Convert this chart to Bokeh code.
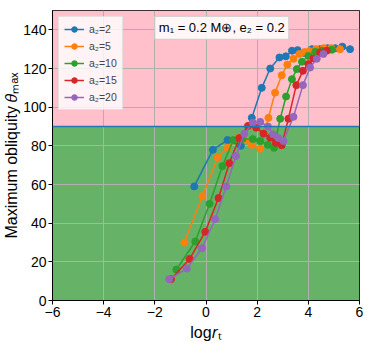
from bokeh.plotting import figure
from bokeh.models import BoxAnnotation, Span, Label, FixedTicker, Range1d
from bokeh.embed import file_html
from bokeh.resources import INLINE

# ---- data ----
labels = ["a₂=2", "a₂=5", "a₂=10", "a₂=15", "a₂=20"]
colors = ["#1f77b4", "#ff7f0e", "#2ca02c", "#d62728", "#9467bd"]

x_a2_2 = [-0.46, 0.27, 0.84, 1.36, 1.79, 2.18, 2.51, 2.87, 3.12, 3.36, 3.58, 3.85, 4.14, 4.45, 4.75, 5.05, 5.33, 5.63]
y_a2_2 = [59, 78, 83, 80, 94.5, 110, 120, 125.7, 126.3, 129.2, 129.5, 128, 130, 130, 130.5, 130.5, 131.3, 130]

x_a2_5 = [-0.85, -0.14, 0.46, 0.85, 1.25, 1.55, 1.79, 2.12, 2.44, 2.70, 2.96, 3.18, 3.42, 3.65, 3.85, 4.04, 4.3, 4.6, 4.9, 5.24]
y_a2_5 = [30, 54, 74, 79, 84, 83, 80.5, 78.5, 94.5, 107.5, 116.5, 122, 125, 127.5, 128.5, 129, 130, 130.5, 130.5, 130]

x_a2_10 = [-1.16, -0.42, 0.14, 0.64, 1.07, 1.42, 1.83, 2.12, 2.42, 2.66, 2.9, 3.13, 3.36, 3.55, 3.75, 4.0, 4.27, 4.53, 4.92]
y_a2_10 = [16, 30.5, 50, 69.5, 83, 83.5, 83.5, 82.5, 80.5, 79, 94, 105.5, 114.5, 119.7, 123.5, 126.5, 128.7, 129.2, 129.7]

x_a2_15 = [-1.37, -0.64, -0.03, 0.49, 0.91, 1.30, 1.64, 1.96, 2.25, 2.51, 2.73, 2.96, 3.22, 3.53, 3.79, 4.0, 4.2, 4.46, 4.72]
y_a2_15 = [11, 21.5, 35.5, 53, 71, 84, 90.3, 89.4, 86.3, 84.2, 81.6, 80.3, 94, 111.4, 118.8, 122.3, 125.2, 128.3, 129.2]

x_a2_20 = [-1.44, -0.75, -0.16, 0.36, 0.79, 1.17, 1.50, 1.83, 2.12, 2.42, 2.62, 2.83, 3.03, 3.42, 3.79, 4.07, 4.33, 4.59]
y_a2_20 = [11, 16.5, 27, 42, 59, 74.7, 86.3, 92, 92.4, 90, 86, 84, 82.5, 95, 111.4, 120.5, 125, 127.5]

series_x = [x_a2_2, x_a2_5, x_a2_10, x_a2_15, x_a2_20]
series_y = [y_a2_2, y_a2_5, y_a2_10, y_a2_15, y_a2_20]

x_ticks = [-6, -4, -2, 0, 2, 4, 6]
y_ticks = [0, 20, 40, 60, 80, 100, 120, 140]
threshold = 90

FONT = "Liberation Sans"

p = figure(frame_width=307, frame_height=290, output_backend="svg", toolbar_location=None,
           x_range=Range1d(-6, 6), y_range=Range1d(0, 150),
           min_border_left=52, min_border_right=8, min_border_top=10, min_border_bottom=50)

p.add_layout(BoxAnnotation(bottom=threshold, fill_color="#ffc0cb", fill_alpha=1.0,
                           line_alpha=0, level="image"))
p.add_layout(BoxAnnotation(top=threshold, fill_color="#66b266", fill_alpha=1.0,
                           line_alpha=0, level="image"))

p.grid.grid_line_color = "#b0b0b0"
p.grid.grid_line_width = 1
p.grid.grid_line_alpha = 1.0

p.add_layout(Span(location=threshold, dimension="width", line_color="#1f77b4", line_width=1.5))

for xs, ys, c, lab in zip(series_x, series_y, colors, labels):
    p.line(xs, ys, line_color=c, line_width=1.5, legend_label=lab)
    p.scatter(xs, ys, size=7, fill_color=c, line_color=c, legend_label=lab)

p.xaxis.ticker = FixedTicker(ticks=x_ticks)
p.yaxis.ticker = FixedTicker(ticks=y_ticks)
p.xaxis.minor_tick_line_color = None
p.yaxis.minor_tick_line_color = None
for ax in (p.xaxis, p.yaxis):
    ax.major_tick_in = 0
    ax.major_tick_out = 4
    ax.major_label_text_font = FONT
    ax.major_label_text_font_size = "14px"
    ax.major_label_text_color = "black"
    ax.axis_label_text_font = FONT
    ax.axis_label_text_font_style = "normal"
    ax.axis_label_text_color = "black"
    ax.axis_line_color = "black"
    ax.major_tick_line_color = "black"
    ax.major_label_standoff = 2

p.xaxis.axis_label = "log𝑟ₜ"
p.xaxis.axis_label_text_font_size = "16px"
p.xaxis.axis_label_standoff = 4
p.yaxis.axis_label = "Maximum obliquity 𝜃ₘₐₓ"
p.yaxis.axis_label_text_font_size = "16px"
p.yaxis.axis_label_standoff = 0

p.outline_line_color = "black"
p.outline_line_width = 1

p.legend.location = "top_left"
p.legend.label_text_font = FONT
p.legend.label_text_font_size = "10.5px"
p.legend.glyph_width = 20
p.legend.glyph_height = 14
p.legend.label_height = 14
p.legend.spacing = 3
p.legend.padding = 5
p.legend.margin = 6
p.legend.border_line_color = "#cccccc"
p.legend.background_fill_color = "white"
p.legend.background_fill_alpha = 0.8

p.add_layout(Label(x=-2.0, y=147, text="m₁ = 0.2 M⊕, e₂ = 0.2",
                   text_font=FONT, text_font_size="13px", text_color="black",
                   text_align="left", text_baseline="top",
                   background_fill_color="white", background_fill_alpha=0.85,
                   border_line_color="#cccccc", padding=4))

open("out.html", "w").write(file_html(p, INLINE))
